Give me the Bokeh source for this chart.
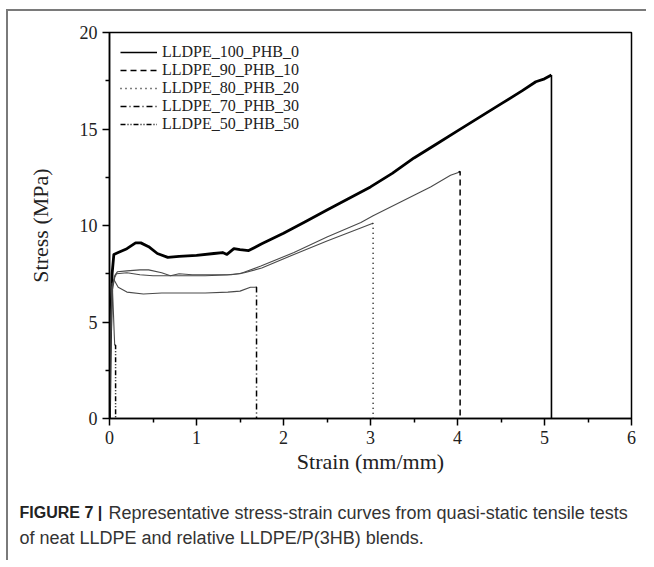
from bokeh.plotting import figure
from bokeh.layouts import column, row
from bokeh.models import Range1d, Legend, LegendItem, FixedTicker
from bokeh.core.properties import value
from bokeh.embed import file_html
from bokeh.resources import INLINE

# ---------------- data ----------------
names = ["LLDPE_100_PHB_0", "LLDPE_90_PHB_10", "LLDPE_80_PHB_20",
         "LLDPE_70_PHB_30", "LLDPE_50_PHB_50"]

x_100_0 = [0, 0.01, 0.03, 0.05, 0.10, 0.20, 0.30, 0.36, 0.45, 0.55, 0.67, 0.80,
           1.00, 1.20, 1.30, 1.35, 1.43, 1.50, 1.60, 1.75, 2.00, 2.25, 2.50, 2.75,
           3.00, 3.25, 3.50, 3.75, 4.00, 4.25, 4.50, 4.75, 4.90, 5.00, 5.08]
y_100_0 = [0, 4.0, 7.5, 8.5, 8.6, 8.8, 9.1, 9.1, 8.9, 8.55, 8.35, 8.4,
           8.45, 8.55, 8.6, 8.5, 8.8, 8.75, 8.7, 9.05, 9.6, 10.2, 10.8, 11.4,
           12.0, 12.7, 13.5, 14.2, 14.9, 15.6, 16.3, 17.0, 17.45, 17.6, 17.8]

x_90_10 = [0, 0.01, 0.03, 0.06, 0.09, 0.20, 0.35, 0.45, 0.60, 0.70, 0.80, 0.95,
           1.16, 1.35, 1.50, 1.74, 2.12, 2.50, 2.89, 3.03, 3.34, 3.69, 3.92, 4.01]
y_90_10 = [0, 4.0, 6.8, 7.4, 7.6, 7.65, 7.7, 7.7, 7.55, 7.4, 7.5, 7.45,
           7.45, 7.45, 7.5, 7.9, 8.6, 9.4, 10.15, 10.5, 11.2, 12.0, 12.6, 12.75]

x_80_20 = [0, 0.01, 0.03, 0.06, 0.08, 0.20, 0.35, 0.50, 0.80, 1.10, 1.40, 1.55,
           1.75, 2.12, 2.50, 2.85, 3.02]
y_80_20 = [0, 4.0, 6.6, 7.3, 7.5, 7.55, 7.45, 7.4, 7.4, 7.4, 7.45, 7.55,
           7.8, 8.5, 9.2, 9.8, 10.1]

x_70_30 = [0, 0.01, 0.03, 0.05, 0.10, 0.20, 0.39, 0.60, 0.90, 1.10, 1.36, 1.50,
           1.62, 1.68]
y_70_30 = [0, 4.0, 6.8, 7.2, 6.8, 6.55, 6.45, 6.5, 6.5, 6.5, 6.55, 6.6,
           6.8, 6.8]

x_50_50 = [0, 0.01, 0.02, 0.03, 0.035, 0.045, 0.055, 0.06]
y_50_50 = [0, 3.0, 5.5, 7.0, 6.6, 5.5, 4.3, 3.8]

# fracture drops (strain at break, stress before break)
break_x = [5.08, 4.03, 3.03, 1.69, 0.07]
break_y = [17.8, 12.8, 10.1, 6.8, 3.8]
dashes = ["solid", "6 4", "1 4", "6 3 1 3", "5 2 1 2 1 2"]

x_ticks = [0, 1, 2, 3, 4, 5, 6]
y_ticks = [0, 5, 10, 15, 20]
x_minor = [0.5, 1.5, 2.5, 3.5, 4.5, 5.5]
y_minor = [2.5, 7.5, 12.5, 17.5]

caption_bold = "FIGURE 7 |"
caption_1 = "Representative stress-strain curves from quasi-static tensile tests"
caption_2 = "of neat LLDPE and relative LLDPE/P(3HB) blends."

# ---------------- main figure ----------------
SERIF = "Liberation Serif"
SANS = "Liberation Sans"
p = figure(width=638, height=469, output_backend="svg", toolbar_location=None,
           x_range=Range1d(0, 6), y_range=Range1d(0, 20),
           min_border_left=101, min_border_right=15, min_border_top=21,
           min_border_bottom=62)
p.grid.visible = False
p.outline_line_color = "black"
p.outline_line_width = 1.5
p.outline_line_alpha = 1

for ax in (p.xaxis[0], p.yaxis[0]):
    ax.axis_line_width = 1.5
    ax.major_tick_line_width = 1.5
    ax.minor_tick_line_width = 1.5
    ax.major_tick_out = 7
    ax.major_tick_in = 0
    ax.minor_tick_out = 4
    ax.minor_tick_in = 0
    ax.major_label_text_font = SERIF
    ax.major_label_text_font_size = "18px"
    ax.major_label_text_color = "#222222"
    ax.axis_label_text_font = SERIF
    ax.axis_label_text_font_size = "22px"
    ax.axis_label_text_font_style = "normal"
    ax.axis_label_text_color = "#222222"
    ax.major_label_standoff = 5

p.xaxis[0].ticker = FixedTicker(ticks=x_ticks, minor_ticks=x_minor)
p.yaxis[0].ticker = FixedTicker(ticks=y_ticks, minor_ticks=y_minor)
p.xaxis[0].axis_label = "Strain (mm/mm)"
p.yaxis[0].axis_label = "Stress (MPa)"
p.xaxis[0].axis_label_standoff = 2
p.yaxis[0].axis_label_standoff = 24

curves_x = [x_100_0, x_90_10, x_80_20, x_70_30, x_50_50]
curves_y = [y_100_0, y_90_10, y_80_20, y_70_30, y_50_50]

items = []
for i in range(5):
    if i == 0:
        p.line(curves_x[i], curves_y[i], line_color="black", line_width=2.8,
               line_join="round")
    else:
        p.line(curves_x[i], curves_y[i], line_color="#4a4a4a", line_width=1.1,
               line_join="round")
    r = p.line([curves_x[i][-1], break_x[i], break_x[i]],
               [curves_y[i][-1], break_y[i], 0],
               line_color="black", line_width=1.6 if i == 0 else 1.5,
               line_dash=dashes[i])
    items.append(LegendItem(label=names[i], renderers=[r]))

legend = Legend(items=items, location="top_left", margin=0, padding=11,
                spacing=0, label_height=16, glyph_height=16, glyph_width=37,
                label_standoff=5, label_text_font=SERIF,
                label_text_font_size="16px", label_text_line_height=0.85,
                label_text_color="#222222",
                border_line_alpha=0, background_fill_alpha=0)
p.add_layout(legend)

# ---------------- caption figure ----------------
c = figure(width=638, height=80, output_backend="svg", toolbar_location=None,
           x_range=Range1d(0, 638), y_range=Range1d(0, 80),
           x_axis_type=None, y_axis_type=None, min_border=0,
           min_border_left=0, min_border_right=0, min_border_top=0,
           min_border_bottom=0)
c.grid.visible = False
c.outline_line_color = None
c.text(x=[11], y=[48], text=[caption_bold], text_font=value(SANS),
       text_font_size="16px", text_font_style="bold", text_color="#222222",
       text_baseline="middle")
c.text(x=[100], y=[48], text=[caption_1], text_font=value(SANS),
       text_font_size="18px", text_color="#333333", text_baseline="middle")
c.text(x=[11], y=[23], text=[caption_2], text_font=value(SANS),
       text_font_size="18px", text_color="#333333", text_baseline="middle")

layout = column(p, row(c), spacing=0)
layout.styles = {"margin-left": "6px", "margin-top": "9px",
                 "border-left": "2px solid #7a7a7a",
                 "border-top": "2px solid #7a7a7a"}

open("out.html", "w").write(file_html(layout, INLINE))
